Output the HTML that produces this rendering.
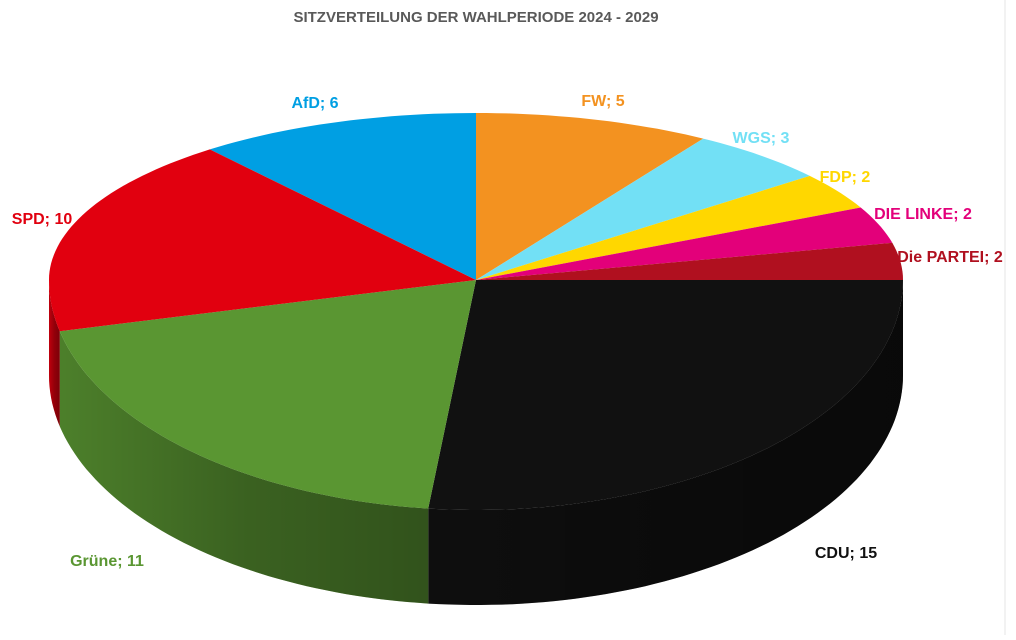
<!DOCTYPE html>
<html><head><meta charset="utf-8"><style>
body{margin:0;background:#fff;width:1016px;height:635px;overflow:hidden;font-family:"Liberation Sans",sans-serif}
</style></head><body>
<svg id="chart" width="1016" height="635" xmlns="http://www.w3.org/2000/svg">
<defs>
<linearGradient id="shade" x1="0" x2="1" y1="0" y2="0">
<stop offset="0" stop-color="#000" stop-opacity="0.15"/>
<stop offset="0.5" stop-color="#000" stop-opacity="0.35"/>
<stop offset="1" stop-color="#000" stop-opacity="0.45"/>
</linearGradient>
</defs>
<line x1="1005" y1="0" x2="1005" y2="635" stroke="#e6e6e6"/>
<text x="476" y="22" text-anchor="middle" font-size="15" font-weight="bold" fill="#595959">SITZVERTEILUNG DER WAHLPERIODE 2024 - 2029</text>
<g id="sides"></g><g id="tops"></g><g id="labels"></g>
</svg>
<script>
const categories=["AfD","FW","WGS","FDP","DIE LINKE","Die PARTEI","CDU","Grüne","SPD"];
const seats=[6,5,3,2,2,2,15,11,10];
const colors=["#009FE3","#F39220","#72E0F5","#FFD700","#E3007A","#B0101F","#111111","#5A9632","#E1000F"];
const labelPos=[[315,108],[603,106],[761,143],[845,182],[923,219],[950,262],[846,558],[107,566],[42,224]];
const labelColors=["#009FE3","#F39220","#72E0F5","#FFD700","#E3007A","#B0101F","#111111","#5A9632","#E1000F"];
const cx=476,cy=280,rx=427,ryT=167,ryB=230,depth=95;
const NS="http://www.w3.org/2000/svg";
function pt(a,dy){const s=Math.sin(a);return [cx+rx*Math.cos(a),cy+s*(s<0?ryT:ryB)+(dy||0)];}
function arc(a,b,dy){const n=Math.max(2,Math.ceil(Math.abs(b-a)*40));const r=[];for(let i=0;i<=n;i++){r.push(pt(a+(b-a)*i/n,dy));}return r;}
const total=seats.reduce((x,y)=>x+y,0);
const sides=document.getElementById('sides'),tops=document.getElementById('tops'),labels=document.getElementById('labels');
let ang=-Math.PI/2-seats[0]/total*2*Math.PI;
seats.forEach((v,i)=>{
  const a=ang,b=ang+v/total*2*Math.PI;ang=b;
  [[0,Math.PI],[2*Math.PI,3*Math.PI],[-2*Math.PI,-Math.PI]].forEach(([lo,hi])=>{
    const s=Math.max(a,lo),e=Math.min(b,hi);
    if(e>s){
      const top=arc(s,e,0),bot=arc(e,s,depth);
      const d='M'+top.concat(bot).map(p=>p[0].toFixed(1)+','+p[1].toFixed(1)).join('L')+'Z';
      const p1=document.createElementNS(NS,'path');p1.setAttribute('d',d);p1.setAttribute('fill',colors[i]);
      
      
      sides.appendChild(p1);
      const p2=document.createElementNS(NS,'path');p2.setAttribute('d',d);p2.setAttribute('fill','url(#shade)');
      
      
      sides.appendChild(p2);
    }
  });
  const pts=arc(a,b,0);
  const d='M'+cx+','+cy+'L'+pts.map(p=>p[0].toFixed(1)+','+p[1].toFixed(1)).join('L')+'Z';
  const t=document.createElementNS(NS,'path');t.setAttribute('d',d);t.setAttribute('fill',colors[i]);
  
  
  tops.appendChild(t);
  const tx=document.createElementNS(NS,'text');
  tx.setAttribute('x',labelPos[i][0]);tx.setAttribute('y',labelPos[i][1]);
  tx.setAttribute('text-anchor','middle');tx.setAttribute('font-size','16');tx.setAttribute('font-weight','bold');
  tx.setAttribute('fill',labelColors[i]);
  
  
  tx.textContent=categories[i]+'; '+v;
  labels.appendChild(tx);
});
</script>
</body></html>
